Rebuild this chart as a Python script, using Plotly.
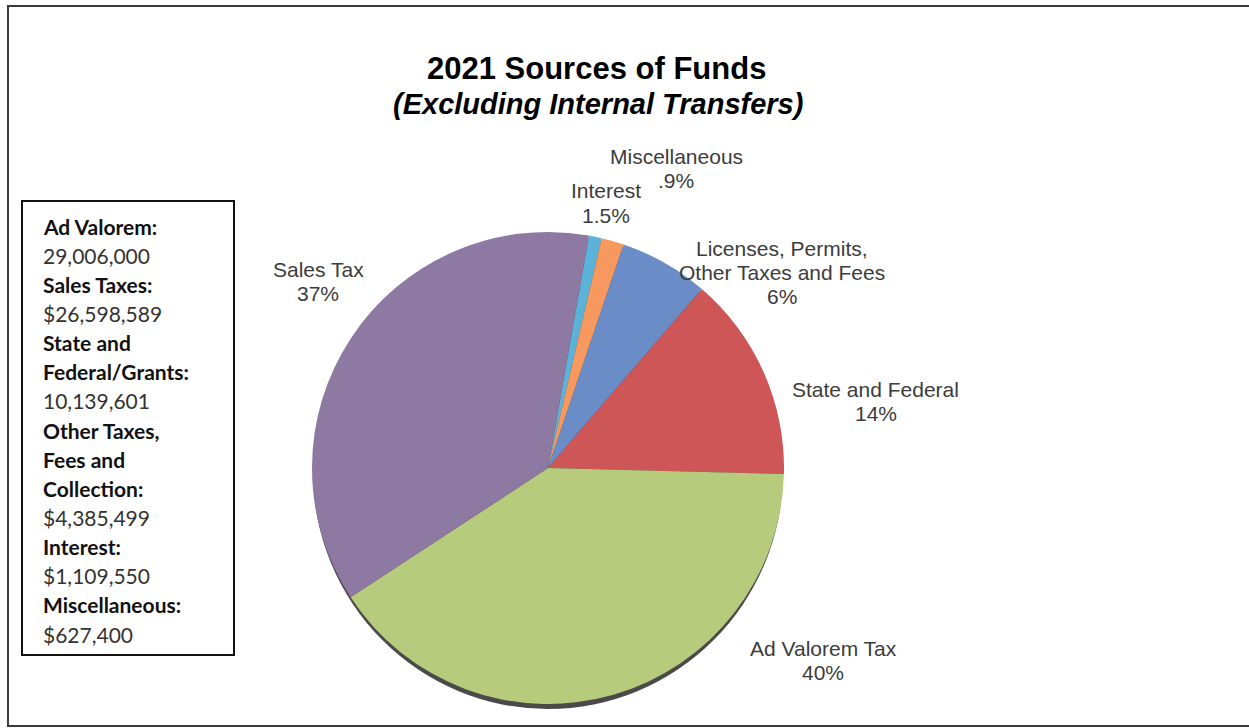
import plotly.graph_objects as go

# Sources of funds, in slice order (clockwise from the top)
categories = ["Miscellaneous", "Interest", "Licenses, Permits,<br>Other Taxes and Fees",
              "State and Federal", "Ad Valorem Tax", "Sales Tax"]
amounts = [627400, 1109550, 4385499, 10139601, 29006000, 26598589]
pct_labels = [".9%", "1.5%", "6%", "14%", "40%", "37%"]
colors = ["#5BB3DA", "#F7995E", "#6A8DC8", "#CF5656", "#B7CB7C", "#8E79A3"]

# Side box listing the amounts
box_names = ["Ad Valorem:", "Sales Taxes:", "State and<br>Federal/Grants:",
             "Other Taxes,<br>Fees and<br>Collection:", "Interest:", "Miscellaneous:"]
box_amounts = [29006000, 26598589, 10139601, 4385499, 1109550, 627400]
box_dollar = [False, True, False, True, True, True]

W, H = 1249, 728
cx, cy, r = 548, 468, 236  # pie centre / radius in pixels


def px(x):
    return x / W


def py(y):
    return 1 - y / H


fig = go.Figure()
fig.add_trace(go.Pie(
    values=amounts,
    labels=[c.replace("<br>", " ") for c in categories],
    sort=False,
    direction="clockwise",
    rotation=10,
    marker=dict(colors=colors, line=dict(width=0)),
    textinfo="none",
    hoverinfo="label+value+percent",
    showlegend=False,
    domain=dict(x=[px(cx - r), px(cx + r)], y=[py(cy + r), py(cy - r)]),
))

shapes = [
    # outer frame
    dict(type="rect", xref="paper", yref="paper", x0=px(8), x1=px(1262), y0=py(726), y1=py(6),
         line=dict(color="#3a3a3a", width=2), layer="below"),
    # pie drop shadow
    dict(type="circle", xref="paper", yref="paper",
         x0=px(cx - r + 1), x1=px(cx + r - 1), y0=py(cy + r + 5), y1=py(cy - r + 3),
         fillcolor="#4a4a4a", line=dict(width=0), layer="below"),
    # side box
    dict(type="rect", xref="paper", yref="paper", x0=px(22), x1=px(234), y0=py(655), y1=py(201),
         line=dict(color="#111111", width=2), fillcolor="rgba(0,0,0,0)"),
]

annotations = [
    dict(text="<b>2021 Sources of Funds</b>", x=px(596), y=py(68), xref="paper", yref="paper",
         showarrow=False, xanchor="center", yanchor="middle",
         font=dict(family="Liberation Sans, Arial", size=31, color="#000000")),
    dict(text="<b><i>(Excluding Internal Transfers)</i></b>", x=px(598), y=py(104), xref="paper",
         yref="paper", showarrow=False, xanchor="center", yanchor="middle",
         font=dict(family="Liberation Sans, Arial", size=29, color="#000000")),
]

# Outside slice labels: centre x and first-line y in pixels
label_pos = [(676, 156), (606, 191), (782, 248), (876, 389), (823, 648), (318, 269)]
line_gap = 24
for name, pct, (lx, ly) in zip(categories, pct_labels, label_pos):
    for k, part in enumerate(name.split("<br>") + [pct]):
        annotations.append(dict(
            text=part, x=px(lx), y=py(ly + k * line_gap), xref="paper", yref="paper",
            showarrow=False, xanchor="center", yanchor="middle", align="center",
            font=dict(family="Liberation Sans, Arial", size=21, color="#3c3c3c")))

# Side box text, one line per row
lines = []
for name, amt, dollar in zip(box_names, box_amounts, box_dollar):
    for part in name.split("<br>"):
        lines.append((f"<b>{part}</b>", "#111111"))
    lines.append((("$" if dollar else "") + f"{amt:,}", "#333333"))

y0, step = 226, 29.15
for i, (txt, col) in enumerate(lines):
    annotations.append(dict(
        text=txt, x=px(41), y=py(y0 + i * step), xref="paper", yref="paper",
        showarrow=False, xanchor="left", yanchor="middle", align="left",
        font=dict(family="Lato, Carlito, Calibri", size=21, color=col)))

fig.update_layout(
    width=W, height=H,
    margin=dict(l=0, r=0, t=0, b=0),
    paper_bgcolor="#ffffff",
    plot_bgcolor="#ffffff",
    shapes=shapes,
    annotations=annotations,
)

fig.write_html("out.html")
